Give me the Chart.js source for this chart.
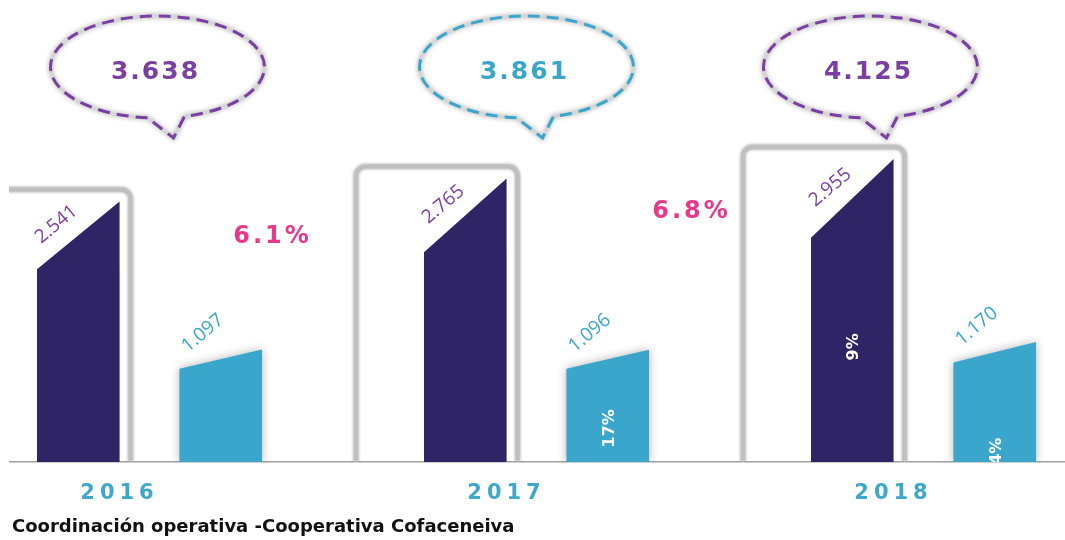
<!DOCTYPE html>
<html>
<head>
<meta charset="utf-8">
<script src="https://cdn.jsdelivr.net/npm/chart.js@4.4.1/dist/chart.umd.min.js"></script>
<style>
  html, body { margin: 0; padding: 0; background: #fff; overflow: hidden; }
  #wrap { position: absolute; left: -44px; top: 0; width: 1161px; height: 540px; }
</style>
</head>
<body>
<div id="wrap"><canvas id="chart"></canvas></div>
<script>
// datos
const years = ["2016", "2017", "2018"];
const seriesA = [2541, 2765, 2955];
const seriesB = [1097, 1096, 1170];
const totals = [3638, 3861, 4125];
const growth = ["", "6.1%", "6.8%"];
const shareA = ["", "", "9%"];
const shareB = ["", "17%", "4%"];
const footer = "Coordinación operativa -Cooperativa Cofaceneiva";

const NAVY = "#2e2466";
const CYAN = "#3aa6cb";
const PURPLE = "#7b3fa3";
const PINK = "#e8388b";
const OFFSET = 44; // canvas empieza 44px fuera de la ventana

const fmt = v => String(v).replace(/\B(?=(\d{3})+(?!\d))/g, ".");

function slantTop(bar, frac) {
  const left = bar.x - bar.width / 2, right = bar.x + bar.width / 2;
  return { left, right, yl: bar.y + (bar.base - bar.y) * frac, yr: bar.y };
}

// estilos de anotacion (posiciones en px)
const bubbleDx = [8, -10, -53];
const bubbleColor = [PURPLE, CYAN, PURPLE];
const growthPos = [null, { dx: -264, y: 237 }, { dx: -232, y: 212 }];
const sharePosA = [0, 0, 0.38];
const sharePosB = [0, 0.3, 0.09];

const shapes = {
  id: "shapes",
  beforeDraw(chart) {
    chart.ctx.letterSpacing = "5px"; // etiquetas de anio
  },
  beforeDatasetsDraw(chart) {
    const ctx = chart.ctx;
    ctx.letterSpacing = "0px";
    // marcos grises detras de las barras oscuras
    ctx.save();
    ctx.beginPath();
    ctx.rect(OFFSET + 9, 0, chart.width, chart.chartArea.bottom);
    ctx.clip();
    chart.getDatasetMeta(0).data.forEach(bar => {
      const l = bar.x - bar.width / 2 - 68, r = bar.x + bar.width / 2 + 11;
      const t = bar.y - 12, b = bar.base, rad = 9;
      ctx.beginPath();
      ctx.moveTo(l, b);
      ctx.lineTo(l, t + rad);
      ctx.arcTo(l, t, l + rad, t, rad);
      ctx.lineTo(r - rad, t);
      ctx.arcTo(r, t, r, t + rad, rad);
      ctx.lineTo(r, b);
      ctx.filter = "blur(1.5px)";
      ctx.strokeStyle = "#a8a8a8";
      ctx.lineWidth = 5;
      ctx.stroke();
      ctx.filter = "none";
      ctx.strokeStyle = "#c2c2c2";
      ctx.lineWidth = 2;
      ctx.stroke();
    });
    ctx.restore();
  },
  beforeDatasetDraw(chart, args) {
    const ds = chart.data.datasets[args.index];
    const ctx = chart.ctx;
    ctx.save();
    ctx.beginPath();
    ctx.rect(0, 0, chart.width, chart.chartArea.bottom);
    ctx.clip();
    args.meta.data.forEach(bar => {
      const s = slantTop(bar, ds.slant);
      ctx.save();
      if (ds.shadow) {
        ctx.shadowColor = "rgba(0,0,0,0.3)";
        ctx.shadowBlur = 10;
      }
      ctx.fillStyle = ds.backgroundColor;
      ctx.beginPath();
      ctx.moveTo(s.left, bar.base);
      ctx.lineTo(s.left, s.yl);
      ctx.lineTo(s.right, s.yr);
      ctx.lineTo(s.right, bar.base);
      ctx.closePath();
      ctx.fill();
      ctx.restore();
    });
    ctx.restore();
    return false;
  },
  afterDatasetsDraw(chart) {
    const ctx = chart.ctx;
    const area = chart.chartArea;
    // valores rotados sobre cada barra
    chart.data.datasets.forEach((ds, di) => {
      chart.getDatasetMeta(di).data.forEach((bar, i) => {
        const s = slantTop(bar, ds.slant);
        const mx = (s.left + s.right) / 2 + ds.labelDx;
        const my = (s.yl + s.yr) / 2 + ds.labelDy;
        ctx.save();
        ctx.translate(mx, my);
        ctx.rotate(-40 * Math.PI / 180);
        ctx.font = '19px "Open Sans"';
        ctx.fillStyle = ds.labelColor;
        ctx.textAlign = "center";
        ctx.textBaseline = "middle";
        ctx.fillText(fmt(ds.data[i]), 0, 0);
        ctx.restore();

        const share = ds.share[i];
        if (share) {
          ctx.save();
          ctx.beginPath();
          ctx.rect(0, 0, chart.width, area.bottom);
          ctx.clip();
          ctx.translate(bar.x + 2, bar.base - ds.sharePos[i] * (bar.base - bar.y));
          ctx.rotate(-Math.PI / 2);
          ctx.font = 'bold 16px "DejaVu Sans"';
          ctx.fillStyle = "#ffffff";
          ctx.textAlign = "center";
          ctx.textBaseline = "middle";
          ctx.fillText(share, 0, 0);
          ctx.restore();
        }
      });
    });
    // crecimiento anual
    const xs = chart.scales.x;
    ctx.save();
    ctx.font = 'bold 24px "DejaVu Sans"';
    ctx.letterSpacing = "3px";
    ctx.fillStyle = PINK;
    ctx.textAlign = "center";
    ctx.textBaseline = "middle";
    growth.forEach((g, i) => {
      if (!g) return;
      const p = growthPos[i];
      ctx.fillText(g, xs.getPixelForValue(i) + p.dx, p.y);
    });
    ctx.restore();
  },
  afterDraw(chart) {
    const ctx = chart.ctx;
    const xs = chart.scales.x;
    // globos con el total
    totals.forEach((t, i) => {
      const cx = xs.getPixelForValue(i) + bubbleDx[i];
      const cy = 67, rx = 107, ry = 51;
      const path = () => {
        ctx.beginPath();
        ctx.ellipse(cx, cy, rx, ry, 0, 1.664, 1.316 + Math.PI * 2);
        ctx.lineTo(cx + 16, 138);
        ctx.closePath();
      };
      ctx.save();
      path();
      ctx.filter = "blur(2px)";
      ctx.strokeStyle = "rgba(150,150,150,0.55)";
      ctx.lineWidth = 5;
      ctx.stroke();
      ctx.filter = "none";
      path();
      ctx.setLineDash([12, 7]);
      ctx.strokeStyle = bubbleColor[i];
      ctx.lineWidth = 3;
      ctx.stroke();
      ctx.setLineDash([]);
      ctx.font = 'bold 25px "DejaVu Sans"';
      ctx.letterSpacing = "2px";
      ctx.fillStyle = bubbleColor[i];
      ctx.textAlign = "center";
      ctx.textBaseline = "middle";
      ctx.fillText(fmt(t), cx - 2, cy + 5);
      ctx.restore();
    });
    // margen blanco izquierdo y fuente
    ctx.save();
    ctx.fillStyle = "#fff";
    ctx.fillRect(0, 0, OFFSET + 9, chart.chartArea.bottom + 2);
    ctx.font = 'bold 18px "DejaVu Sans"';
    ctx.fillStyle = "#111";
    ctx.textBaseline = "alphabetic";
    ctx.fillText(footer, OFFSET + 12, 532);
    ctx.restore();
  }
};

new Chart(document.getElementById("chart"), {
  type: "bar",
  data: {
    labels: years,
    datasets: [
      {
        label: "A",
        data: seriesA,
        backgroundColor: NAVY,
        slant: 0.26,
        shadow: false,
        labelColor: PURPLE,
        labelDx: -22,
        labelDy: -11,
        share: shareA,
        sharePos: sharePosA
      },
      {
        label: "B",
        data: seriesB,
        backgroundColor: CYAN,
        slant: 0.17,
        shadow: true,
        labelColor: CYAN,
        labelDx: -18,
        labelDy: -26,
        share: shareB,
        sharePos: sharePosB
      }
    ]
  },
  options: {
    responsive: true,
    maintainAspectRatio: false,
    animation: false,
    events: [],
    layout: { padding: { top: 52, left: 0, right: 0, bottom: 0 } },
    categoryPercentage: 0.736,
    barPercentage: 0.58,
    plugins: {
      legend: { display: false },
      tooltip: { enabled: false }
    },
    scales: {
      x: {
        grid: { display: false, drawTicks: false },
        border: { display: true, color: "#a0a0a0", width: 1.5 },
        ticks: {
          color: "#3ea8c9",
          font: { family: "DejaVu Sans", size: 21, weight: "bold" },
          padding: 19,
          labelOffset: -30,
          maxRotation: 0
        },
        afterFit(scale) { scale.height = 78; }
      },
      y: {
        display: false,
        min: 0,
        max: 4000
      }
    }
  },
  plugins: [shapes]
});
</script>
</body>
</html>
